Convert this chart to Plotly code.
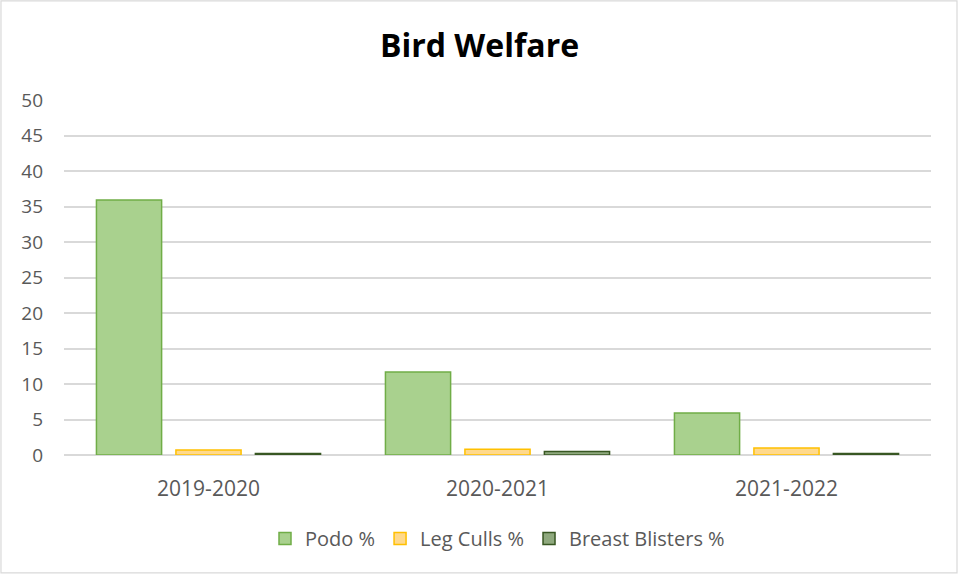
import plotly.graph_objects as go

seasons = ["2019-2020", "2020-2021", "2021-2022"]
podo = [35.9, 11.7, 5.9]
leg_culls = [0.7, 0.8, 1.0]
breast_blisters = [0.2, 0.5, 0.2]
y_ticks = list(range(0, 55, 5))

font_name = "Open Sans, sans-serif"
grey = "#595959"

fig = go.Figure()
fig.add_trace(go.Bar(x=seasons, y=podo, name="Podo %",
                     marker=dict(color="#a9d18e", line=dict(color="#70ad47", width=1.5))))
fig.add_trace(go.Bar(x=seasons, y=leg_culls, name="Leg Culls %",
                     marker=dict(color="#ffd98c", line=dict(color="#ffc000", width=1.5))))
fig.add_trace(go.Bar(x=seasons, y=breast_blisters, name="Breast Blisters %",
                     marker=dict(color="#8fa97e", line=dict(color="#385723", width=1.5))))

fig.update_layout(
    width=959, height=575,
    margin=dict(l=64, r=28, t=100, b=120),
    paper_bgcolor="white", plot_bgcolor="white",
    font=dict(family=font_name, color=grey, size=18),
    title=dict(text="<b>Bird Welfare</b>", x=0.5, xanchor="center", y=0.92, yanchor="middle",
               font=dict(family=font_name, size=32, color="black")),
    barmode="group", bargap=0.175, bargroupgap=0.18,
    xaxis=dict(showgrid=False, showline=False, ticks="", ticklabelstandoff=19,
               tickfont=dict(size=21, color=grey)),
    yaxis=dict(range=[0, 50], tickvals=y_ticks, showgrid=True, gridcolor="#d9d9d9",
               gridwidth=1.5, zeroline=True, zerolinecolor="#d9d9d9", zerolinewidth=1.5,
               ticks="", ticklabelstandoff=20, tickfont=dict(size=19, color=grey)),
    legend=dict(orientation="h", x=0.5, xanchor="center", y=-0.235, yanchor="middle",
                font=dict(size=20, color=grey), traceorder="normal", itemwidth=30),
    showlegend=True,
)

# thin frame around the chart area
fig.add_shape(type="rect", xref="paper", yref="paper",
              x0=-0.0727, x1=1.03, y0=-0.332, y1=1.279,
              line=dict(color="#d9d9d9", width=1.2), fillcolor="rgba(0,0,0,0)", layer="below")

fig.write_html("out.html", config={"displayModeBar": False},
               post_script="document.body.style.margin='0';")
